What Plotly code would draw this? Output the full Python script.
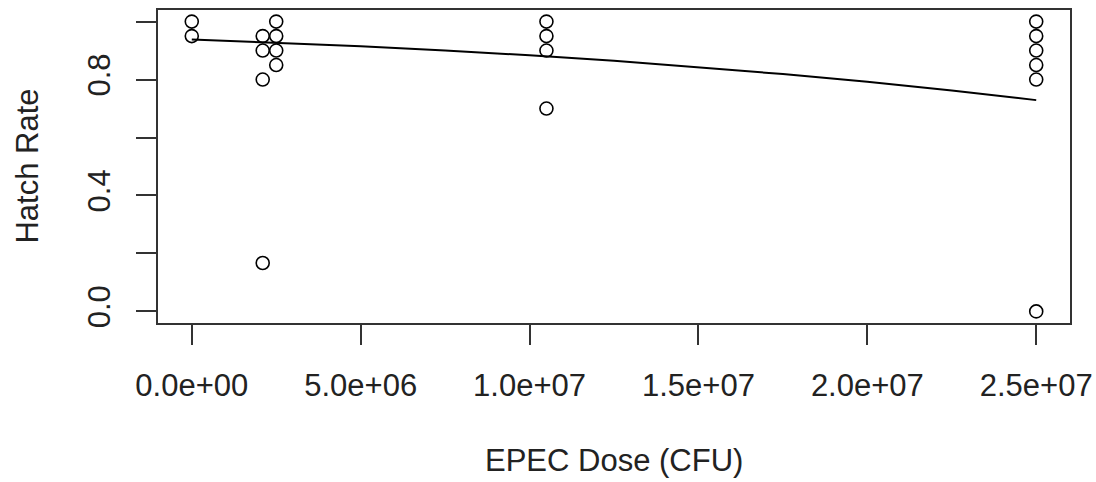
import plotly.graph_objects as go

# Observed data (EPEC dose in CFU, hatch rate)
dose = [0, 0,
        2.1e6, 2.1e6, 2.1e6, 2.1e6,
        2.5e6, 2.5e6, 2.5e6, 2.5e6,
        1.05e7, 1.05e7, 1.05e7, 1.05e7,
        2.5e7, 2.5e7, 2.5e7, 2.5e7, 2.5e7, 2.5e7]
hatch = [1.0, 0.95,
         0.95, 0.90, 0.80, 0.167,
         1.0, 0.95, 0.90, 0.85,
         1.0, 0.95, 0.90, 0.70,
         1.0, 0.95, 0.90, 0.85, 0.80, 0.0]

# Fitted curve
fit_dose = [0, 2.5e6, 5e6, 7.5e6, 1e7, 1.25e7, 1.5e7, 1.75e7, 2e7, 2.25e7, 2.5e7]
fit_rate = [0.938, 0.927, 0.915, 0.900, 0.884, 0.865, 0.843, 0.819, 0.792, 0.762, 0.729]

x_tickvals = [0, 5e6, 1e7, 1.5e7, 2e7, 2.5e7]
x_ticktext = ["0.0e+00", "5.0e+06", "1.0e+07", "1.5e+07", "2.0e+07", "2.5e+07"]
y_tickvals = [0, 0.2, 0.4, 0.6, 0.8, 1.0]
y_ticktext = ["0.0", "", "0.4", "", "0.8", ""]

FONT = "Liberation Sans, Arial, sans-serif"
FS = 31
INK = "#222222"

fig = go.Figure()
fig.add_trace(go.Scatter(x=fit_dose, y=fit_rate, mode="lines",
                         line=dict(color="black", width=2), hoverinfo="skip",
                         showlegend=False))
fig.add_trace(go.Scatter(x=dose, y=hatch, mode="markers",
                         marker=dict(symbol="circle-open", size=13,
                                     color="black", line=dict(width=1.6, color="black")),
                         showlegend=False))

axis_common = dict(showgrid=False, zeroline=False, showline=True, mirror=True,
                   linecolor="#333333", linewidth=2, ticks="outside", ticklen=20,
                   tickwidth=2, tickcolor="#333333", automargin=False,
                   tickfont=dict(family=FONT, size=FS, color=INK))

fig.update_layout(
    width=1096, height=482,
    margin=dict(l=158, r=26, t=10, b=159),
    paper_bgcolor="white", plot_bgcolor="white",
    font=dict(family=FONT, size=FS, color=INK),
    xaxis=dict(range=[-1e6, 2.6e7], tickmode="array", tickvals=x_tickvals,
               ticktext=x_ticktext, ticklabelstandoff=14, **axis_common),
    yaxis=dict(range=[-0.04, 1.04], tickmode="array", tickvals=y_tickvals,
               ticktext=y_ticktext, tickangle=-90, ticklabelstandoff=14, **axis_common),
    annotations=[
        dict(text="EPEC Dose (CFU)", xref="paper", yref="paper", x=0.5, y=-0.4377,
             xanchor="center", yanchor="middle", showarrow=False,
             font=dict(family=FONT, size=FS, color=INK)),
        dict(text="Hatch Rate", xref="paper", yref="paper", x=-0.1436, y=0.5,
             xanchor="center", yanchor="middle", textangle=-90, showarrow=False,
             font=dict(family=FONT, size=FS, color=INK)),
    ],
)

fig.write_html("out.html")
